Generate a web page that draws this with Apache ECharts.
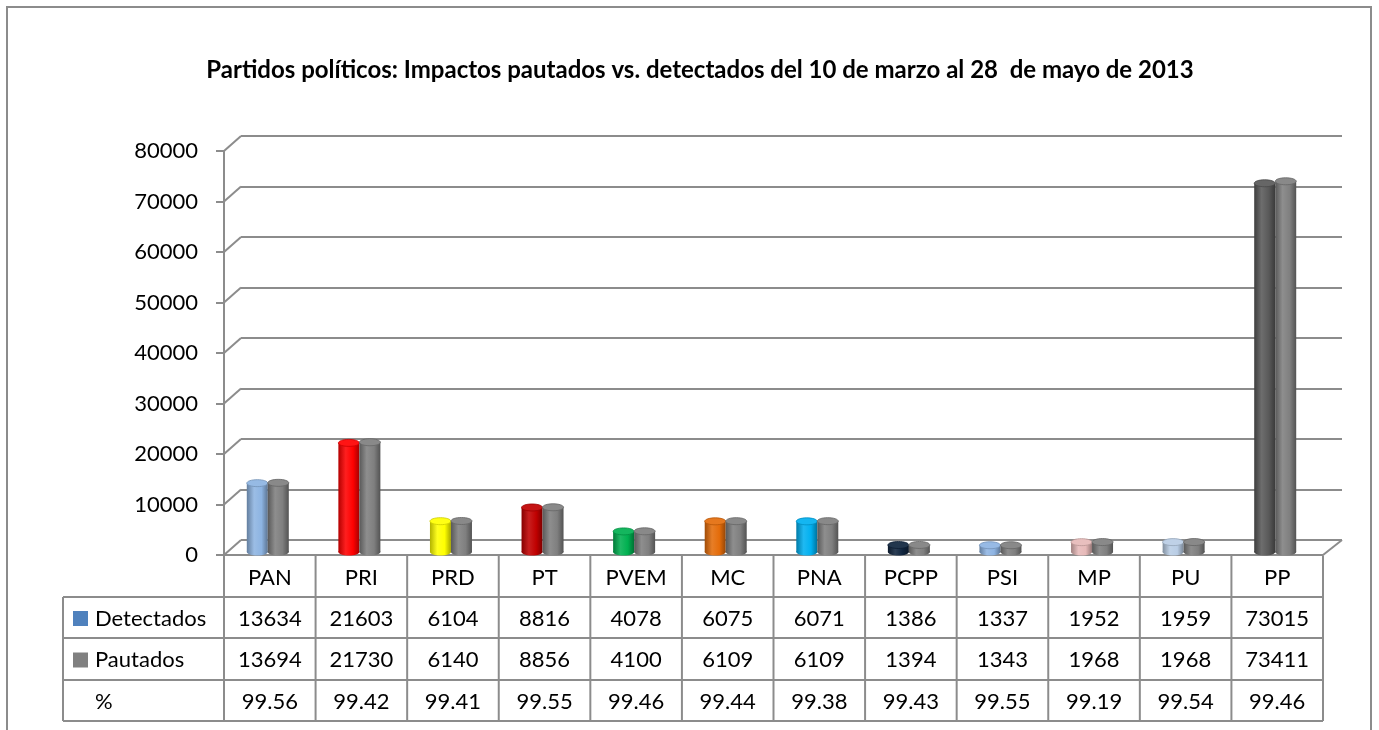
<!DOCTYPE html>
<html><head><meta charset="utf-8">
<script src="https://cdn.jsdelivr.net/npm/echarts@6/dist/echarts.min.js"></script>
<style>html,body{margin:0;padding:0;background:#fff}#c{width:1379px;height:730px}</style>
</head><body><div id="c"></div>
<script>
// ---------- data ----------
const titleText = 'Partidos políticos: Impactos pautados vs. detectados del 10 de marzo al 28  de mayo de 2013';
const categories = ['PAN','PRI','PRD','PT','PVEM','MC','PNA','PCPP','PSI','MP','PU','PP'];
const detectados = [13634,21603,6104,8816,4078,6075,6071,1386,1337,1952,1959,73015];
const pautados   = [13694,21730,6140,8856,4100,6109,6109,1394,1343,1968,1968,73411];
const porcentaje = [99.56,99.42,99.41,99.55,99.46,99.44,99.38,99.43,99.55,99.19,99.54,99.46];
const rowNames = ['Detectados','Pautados','%'];
const yTicks = [0,10000,20000,30000,40000,50000,60000,70000,80000];

// ---------- styles ----------
const detectadosColors = ['#8DB4E2','#FF0000','#FFFF00','#C00000','#00B050','#E46C0A','#00B0F0','#0F243E','#8EB4E3','#E6B9B8','#B9CDE5','#595959'];
const pautadosColor = '#7F7F7F';
const legendColors = ['#4F81BD','#808080'];
const LINE = '#8C8C8C';
const FONT = 'Lato';

// ---------- layout ----------
const FRONT = {left:224, top:151, width:1099, height:404};
const DX = 17, DY = 15;
const BACK = {left:FRONT.left+DX, top:FRONT.top-DY, width:FRONT.width+2, height:FRONT.height};
const BARS = {left:FRONT.left-2, top:FRONT.top-3, width:FRONT.width, height:FRONT.height};
const TBL = {left:63, rows:[556,597,638,680,721]};
const BAR_W = 21;

function shade(hex, f){
  const n = parseInt(hex.slice(1),16);
  let r=(n>>16)&255,g=(n>>8)&255,b=n&255;
  const adj = c => f<0 ? Math.round(c*(1+f)) : Math.round(c+(255-c)*f);
  r=adj(r);g=adj(g);b=adj(b);
  return '#'+[r,g,b].map(x=>x.toString(16).padStart(2,'0')).join('');
}

function cylinder(name, values, colorFn, side){
  return {
    type:'custom', name, xAxisIndex:2, yAxisIndex:2, z:5,
    data: values.map((v,i)=>[i,v]),
    renderItem(params, api){
      const i = api.value(0), v = api.value(1);
      const top = api.coord([i, v]);
      const base = api.coord([i, 0]);
      const cx = top[0] + side*BAR_W/2;
      const c = colorFn(i);
      const ry = 3.5;
      const grad = new echarts.graphic.LinearGradient(0,0,1,0,[
        {offset:0,color:shade(c,-0.3)},
        {offset:0.35,color:shade(c,0.12)},
        {offset:0.7,color:c},
        {offset:1,color:shade(c,-0.35)}]);
      return {type:'group', children:[
        {type:'ellipse', shape:{cx:cx, cy:base[1], rx:BAR_W/2, ry:ry}, style:{fill:grad}},
        {type:'rect', shape:{x:cx-BAR_W/2, y:top[1], width:BAR_W, height:base[1]-top[1]}, style:{fill:grad}},
        {type:'ellipse', shape:{cx:cx, cy:top[1], rx:BAR_W/2, ry:ry}, style:{fill:shade(c,0.08), stroke:shade(c,-0.2), lineWidth:0.8}}
      ]};
    }
  };
}

// depth connectors at each tick on the left wall + floor right edge
const connectors = {
  type:'custom', xAxisIndex:1, yAxisIndex:1, z:1, silent:true,
  data: yTicks.map(v=>[0,v]),
  renderItem(params, api){
    const cs = params.coordSys;
    const y = api.coord([0, api.value(1)])[1];
    const children = [{type:'line', shape:{x1:cs.x, y1:y, x2:cs.x+DX, y2:y-DY}, style:{stroke:LINE, lineWidth:2}}];
    if (api.value(1) === 0) {
      children.push({type:'line', shape:{x1:cs.x+cs.width, y1:y, x2:cs.x+cs.width+DX+2, y2:y-DY}, style:{stroke:LINE, lineWidth:2}});
    }
    return {type:'group', children};
  }
};

// ---------- table (graphic) ----------
const colW = FRONT.width / categories.length;
const colX = k => FRONT.left + k*colW;
const R = TBL.rows;
const gfx = [];
const lineStyle = {stroke:LINE, lineWidth:2};
gfx.push({type:'rect', shape:{x:7, y:7, width:1364, height:800}, style:{fill:null, stroke:LINE, lineWidth:2}, z:0});
gfx.push({type:'text', x:700, y:70, style:{text:titleText, font:'bold 24px '+FONT, fill:'#000', textAlign:'center', textVerticalAlign:'middle'}});
for (let k=0;k<=categories.length;k++) gfx.push({type:'line', shape:{x1:colX(k), y1:R[0], x2:colX(k), y2:R[1]}, style:lineStyle});
gfx.push({type:'line', shape:{x1:TBL.left, y1:R[1], x2:TBL.left, y2:R[4]}, style:lineStyle});
for (let k=0;k<=categories.length;k++) gfx.push({type:'line', shape:{x1:colX(k), y1:R[1], x2:colX(k), y2:R[4]}, style:lineStyle});
for (let r=1;r<R.length;r++) gfx.push({type:'line', shape:{x1:TBL.left, y1:R[r], x2:colX(categories.length), y2:R[r]}, style:lineStyle});
categories.forEach((c,k)=>gfx.push({type:'text', x:colX(k)+colW/2, y:(R[0]+R[1])/2+1, style:{text:c, font:'22px '+FONT, fill:'#000', textAlign:'center', textVerticalAlign:'middle'}}));
const rowVals = [detectados.map(String), pautados.map(String), porcentaje.map(v=>v.toFixed(2))];
rowVals.forEach((vals,r)=>{
  const cy = (R[r+1]+R[r+2])/2+1;
  if (r<2) gfx.push({type:'rect', shape:{x:73, y:cy-7.5, width:15, height:15}, style:{fill:legendColors[r]}});
  gfx.push({type:'text', x:95, y:cy, style:{text:rowNames[r], font:'22px '+FONT, fill:'#000', textAlign:'left', textVerticalAlign:'middle'}});
  vals.forEach((v,k)=>gfx.push({type:'text', x:colX(k)+colW/2, y:cy, style:{text:v, font:'22px '+FONT, fill:'#000', textAlign:'center', textVerticalAlign:'middle'}}));
});

const chart = echarts.init(document.getElementById('c'), null, {renderer:'canvas'});
chart.setOption({
  backgroundColor:'#fff',
  animation:false,
  grid:[
    {left:BACK.left, top:BACK.top, width:BACK.width, height:BACK.height},
    {left:FRONT.left, top:FRONT.top, width:FRONT.width, height:FRONT.height},
    {left:BARS.left, top:BARS.top, width:BARS.width, height:BARS.height}
  ],
  xAxis:[
    {gridIndex:0, type:'category', data:categories, show:false},
    {gridIndex:1, type:'category', data:categories, axisLine:{show:true, lineStyle:{color:LINE, width:2}}, axisTick:{show:false}, axisLabel:{show:false}},
    {gridIndex:2, type:'category', data:categories, show:false}
  ],
  yAxis:[
    {gridIndex:0, type:'value', min:0, max:80000, interval:10000, axisLine:{show:false}, axisTick:{show:false}, axisLabel:{show:false}, splitLine:{show:true, lineStyle:{color:LINE, width:2}}},
    {gridIndex:1, type:'value', min:0, max:80000, interval:10000, axisLine:{show:true, lineStyle:{color:LINE, width:2}}, axisTick:{show:true, length:8, lineStyle:{color:LINE, width:2}}, axisLabel:{color:'#000', fontSize:22, fontFamily:FONT, margin:26, formatter:v=>String(v)}, splitLine:{show:false}},
    {gridIndex:2, type:'value', min:0, max:80000, interval:10000, show:false}
  ],
  series:[
    connectors,
    cylinder('Detectados', detectados, i=>detectadosColors[i], -1),
    cylinder('Pautados', pautados, ()=>pautadosColor, 1)
  ],
  graphic: gfx
});
</script></body></html>
